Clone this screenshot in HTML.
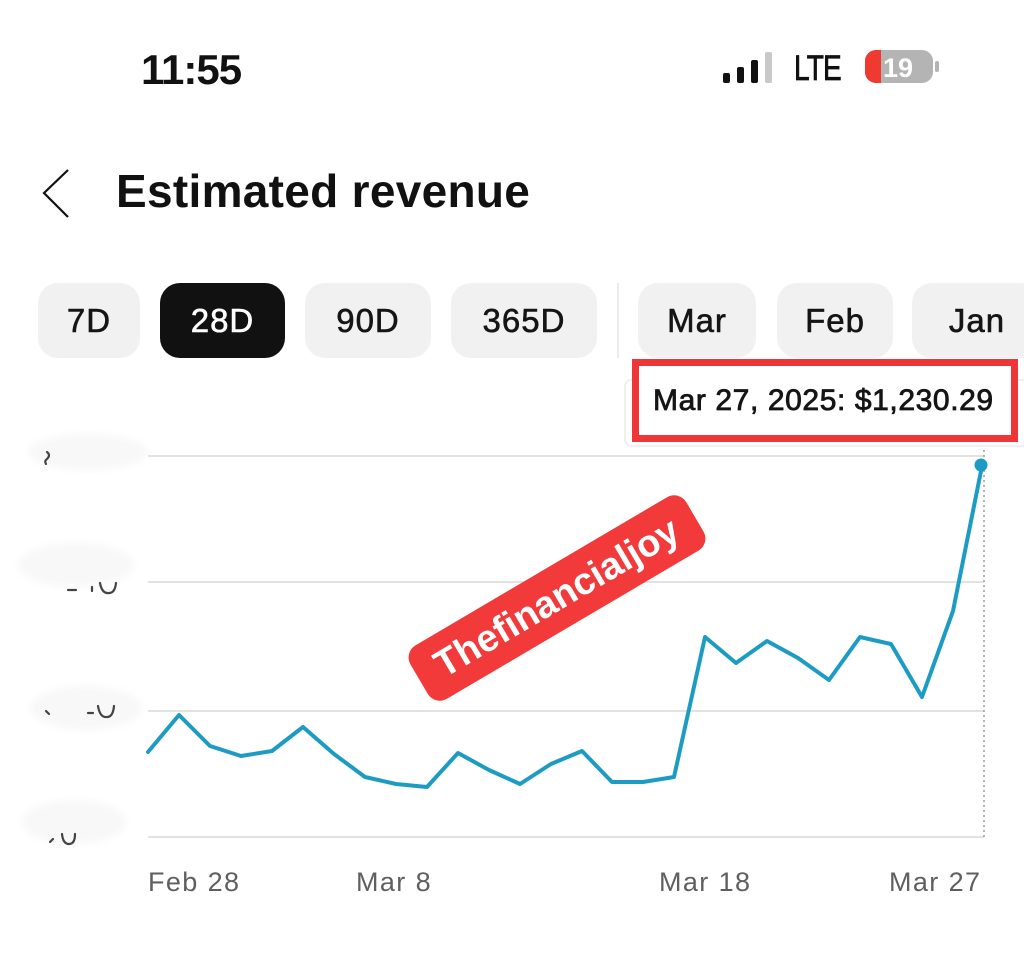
<!DOCTYPE html>
<html>
<head>
<meta charset="utf-8">
<style>
  html,body{margin:0;padding:0;}
  body{width:1024px;height:978px;overflow:hidden;background:#fff;position:relative;font-family:"Liberation Sans",Arial,sans-serif;color:#111;}
  .abs{position:absolute;}
  .time{left:141px;top:46px;font-size:42px;font-weight:bold;letter-spacing:-1px;line-height:48px;}
  .lte{left:794px;top:49px;font-size:35px;line-height:40px;letter-spacing:-1px;transform:scaleX(0.8);transform-origin:left top;-webkit-text-stroke:0.8px #111;}
  .title{left:116px;top:163px;font-size:46px;font-weight:bold;line-height:56px;letter-spacing:0.3px;}
  .pill{position:absolute;top:283px;height:75px;border-radius:20px;background:#f1f1f1;font-size:33px;line-height:75px;text-align:center;letter-spacing:1px;color:#151515;-webkit-text-stroke:0.6px #151515;}
  .pill.on{background:#111;color:#fff;-webkit-text-stroke:0.6px #fff;}
  .tip{left:632px;top:359px;width:372px;height:69px;border:7px solid #ee3538;background:#fff;}
  .tiptext{left:653px;top:384px;font-size:30px;line-height:34px;color:#151515;-webkit-text-stroke:0.8px #151515;letter-spacing:0.6px;white-space:nowrap;}
  .xl{position:absolute;top:866px;font-size:27px;line-height:32px;color:#5f5f5f;letter-spacing:1.4px;white-space:nowrap;}
  .wm{left:397px;top:567px;width:320px;height:62px;border-radius:14px;background:#f23a3a;color:#fff;font-size:38px;font-weight:bold;line-height:62px;text-align:center;transform:rotate(-30.5deg);white-space:nowrap;}
</style>
</head>
<body>

<!-- status bar -->
<div class="abs time">11:55</div>
<svg class="abs" style="left:0;top:0" width="1024" height="120">
  <rect x="723" y="73" width="7" height="10" rx="2" fill="#111"/>
  <rect x="737" y="67" width="7" height="16" rx="2" fill="#111"/>
  <rect x="751" y="60" width="7" height="23" rx="2" fill="#111"/>
  <rect x="765" y="52" width="7" height="31" rx="2" fill="#c9c9c9"/>
  <rect x="865" y="50" width="68" height="33" rx="11" fill="#b4b4b4"/>
  <path d="M876,50 L881,50 L881,83 L876,83 A11,11 0 0 1 865,72 L865,61 A11,11 0 0 1 876,50 Z" fill="#f0392f"/>
  <rect x="935" y="61" width="4" height="11" rx="2" fill="#b4b4b4"/>
  <text x="898" y="77" font-family="Liberation Sans, Arial, sans-serif" font-weight="bold" font-size="27" fill="#fff" text-anchor="middle">19</text>
</svg>
<div class="abs lte">LTE</div>

<!-- header -->
<svg class="abs" style="left:0;top:150px" width="100" height="90">
  <polyline points="68,20 44,43 68,67" fill="none" stroke="#111" stroke-width="2.2"/>
</svg>
<div class="abs title">Estimated revenue</div>

<!-- pills -->
<div class="pill" style="left:38px;width:102px;">7D</div>
<div class="pill on" style="left:160px;width:125px;">28D</div>
<div class="pill" style="left:305px;width:126px;">90D</div>
<div class="pill" style="left:451px;width:146px;">365D</div>
<div class="abs" style="left:617px;top:283px;width:2px;height:75px;background:#ececec;"></div>
<div class="pill" style="left:638px;width:118px;">Mar</div>
<div class="pill" style="left:777px;width:116px;">Feb</div>
<div class="pill" style="left:912px;width:130px;">Jan</div>

<!-- chart -->
<svg class="abs" style="left:0;top:0" width="1024" height="978">
  <defs>
    <filter id="bl" x="-30%" y="-60%" width="160%" height="220%"><feGaussianBlur stdDeviation="4"/></filter>
  </defs>
  <!-- faint card behind tooltip -->
  <rect x="625" y="380" width="405" height="66" rx="6" fill="none" stroke="#ececec" stroke-width="1.5"/>
  <!-- y-axis smudges -->
  <g filter="url(#bl)" fill="#f8f8f8">
    <ellipse cx="88" cy="452" rx="60" ry="18"/>
    <ellipse cx="76" cy="565" rx="58" ry="22"/>
    <ellipse cx="86" cy="708" rx="56" ry="22"/>
    <ellipse cx="74" cy="822" rx="52" ry="22"/>
  </g>
  <g fill="none" stroke="#444" stroke-width="2.2" stroke-linecap="round">
    <path d="M47,452 q4,3 0,7 q-3,2 -1,5"/>
    <path d="M68,590 l8,0"/>
    <path d="M92,587 l0,4"/>
    <path d="M100,583 q2,11 9,10 q6,0 7,-10"/>
    <path d="M46,711 l3,3"/>
    <path d="M88,713 l5,0"/>
    <path d="M98,706 q2,12 9,11 q6,0 7,-11"/>
    <path d="M50,842 l3,-3"/>
    <path d="M62,834 q1,10 7,10 q6,0 6,-10"/>
  </g>
  <!-- gridlines -->
  <g stroke="#e2e2e2" stroke-width="2">
    <line x1="148" y1="456" x2="984" y2="456"/>
    <line x1="148" y1="582" x2="984" y2="582"/>
    <line x1="148" y1="711" x2="984" y2="711"/>
    <line x1="148" y1="837" x2="984" y2="837"/>
  </g>
  <!-- dotted cursor -->
  <line x1="984" y1="450" x2="984" y2="837" stroke="#9a9a9a" stroke-width="1.5" stroke-dasharray="2,3"/>
  <!-- series -->
  <polyline fill="none" stroke="#1d9cc3" stroke-width="4" stroke-linejoin="round" stroke-linecap="round"
    points="148,752 179,715 210,746 241,756 272,751 303,727 334,754 365,777 396,784 427,787 458,753 489,770 520,784 551,764 582,751 612,782 643,782 674,777 705,637 736,663 767,641 798,658 829,680 860,637 891,644 922,697 953,611 982,466"/>
  <circle cx="981" cy="465" r="6.5" fill="#1d9cc3"/>
</svg>

<!-- tooltip -->
<div class="abs tip"></div>
<div class="abs tiptext">Mar 27, 2025: $1,230.29</div>

<!-- watermark -->
<div class="abs wm">Thefinancialjoy</div>

<!-- x labels -->
<div class="xl" style="left:148px;">Feb 28</div>
<div class="xl" style="left:356px;">Mar 8</div>
<div class="xl" style="left:659px;">Mar 18</div>
<div class="xl" style="left:889px;">Mar 27</div>

</body>
</html>
